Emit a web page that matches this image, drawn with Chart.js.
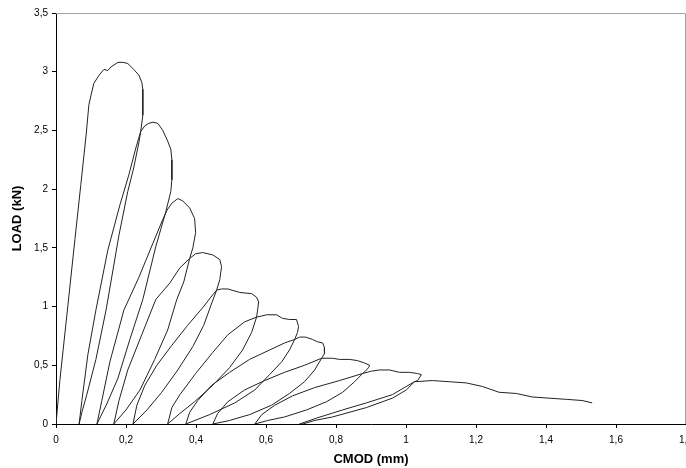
<!DOCTYPE html>
<html>
<head>
<meta charset="utf-8">
<script src="https://cdn.jsdelivr.net/npm/chart.js@4/dist/chart.umd.min.js"></script>
<style>
  html, body { margin: 0; padding: 0; background: #fff; overflow: hidden; }
</style>
</head>
<body>
<canvas id="cmod-chart" width="686" height="468"></canvas>
<script>
// CMOD (mm), one row per loading / unloading branch
const cmod = [
    0, 0.011, 0.034, 0.054, 0.071, 0.086, 0.094, 0.100, 0.108, 0.123, 0.137, 0.148, 0.157, 0.177, 0.191, 0.205, 0.222, 0.237, 0.245, 0.248,
    0.248, 0.242, 0.237, 0.222, 0.205, 0.180, 0.143, 0.114, 0.088, 0.074, 0.066,
    0.074, 0.091, 0.114, 0.148, 0.183, 0.208, 0.228, 0.242, 0.254, 0.265, 0.277, 0.291, 0.305, 0.319, 0.328, 0.331, 0.331, 0.328,
    0.314, 0.285, 0.248, 0.211, 0.177, 0.145, 0.117,
    0.131, 0.154, 0.194, 0.237, 0.277, 0.302, 0.317, 0.331, 0.348, 0.362, 0.382, 0.396, 0.399,
    0.391, 0.382, 0.365, 0.345, 0.319, 0.282, 0.240, 0.200, 0.165,
    0.180, 0.205, 0.245, 0.285, 0.325, 0.354, 0.382, 0.399, 0.419, 0.448, 0.468, 0.473, 0.468,
    0.459, 0.445, 0.422, 0.391, 0.348, 0.302, 0.260, 0.220,
    0.231, 0.254, 0.288, 0.331, 0.376, 0.419, 0.445, 0.459, 0.473, 0.491, 0.525, 0.559, 0.573, 0.579, 0.576, 0.573,
    0.559, 0.533, 0.496, 0.448, 0.396, 0.354, 0.319,
    0.331, 0.354, 0.399, 0.448, 0.491, 0.539, 0.573, 0.588, 0.602, 0.630, 0.647, 0.667, 0.687, 0.693, 0.690, 0.682,
    0.667, 0.645, 0.610, 0.568, 0.511, 0.439, 0.371,
    0.382, 0.405, 0.445, 0.496, 0.553, 0.610, 0.653, 0.682, 0.696, 0.713, 0.733, 0.747, 0.762, 0.767, 0.767, 0.759,
    0.739, 0.710, 0.667, 0.616, 0.553, 0.496, 0.448,
    0.462, 0.491, 0.539, 0.596, 0.653, 0.710, 0.759, 0.790, 0.810, 0.839, 0.861, 0.881, 0.896, 0.893, 0.884, 0.876,
    0.853, 0.819, 0.773, 0.716, 0.653, 0.605, 0.568,
    0.588, 0.625, 0.676, 0.739, 0.810, 0.876, 0.901, 0.924, 0.953, 0.981, 1.010, 1.033, 1.044, 1.033, 1.024,
    1.001, 0.961, 0.887, 0.790, 0.739, 0.705, 0.696,
    0.744, 0.819, 0.887, 0.961, 1.024, 1.075, 1.124, 1.172, 1.218, 1.266, 1.315, 1.361, 1.409, 1.458, 1.503, 1.532
];

// LOAD (kN), same rows as cmod
const load = [
    0, 0.37, 1.01, 1.57, 2.04, 2.46, 2.72, 2.80, 2.90, 2.97, 3.02, 3.01, 3.04, 3.08, 3.08, 3.07, 3.02, 2.97, 2.91, 2.85,
    2.63, 2.49, 2.40, 2.18, 1.98, 1.61, 0.97, 0.55, 0.25, 0.10, 0,
    0.20, 0.59, 0.97, 1.48, 1.87, 2.12, 2.35, 2.49, 2.54, 2.56, 2.57, 2.56, 2.50, 2.41, 2.34, 2.25, 2.08, 1.98,
    1.81, 1.51, 1.06, 0.72, 0.39, 0.17, 0,
    0.20, 0.53, 0.97, 1.25, 1.54, 1.72, 1.82, 1.88, 1.92, 1.90, 1.84, 1.75, 1.63,
    1.50, 1.41, 1.21, 1.06, 0.80, 0.55, 0.29, 0.12, 0,
    0.20, 0.46, 0.76, 1.06, 1.20, 1.33, 1.41, 1.45, 1.46, 1.44, 1.40, 1.34, 1.23,
    1.14, 1.03, 0.84, 0.66, 0.46, 0.27, 0.12, 0,
    0.16, 0.33, 0.50, 0.67, 0.84, 0.99, 1.09, 1.14, 1.15, 1.15, 1.12, 1.11, 1.08, 1.04, 0.97, 0.91,
    0.78, 0.63, 0.48, 0.33, 0.19, 0.09, 0,
    0.14, 0.25, 0.43, 0.61, 0.76, 0.87, 0.91, 0.92, 0.93, 0.93, 0.90, 0.89, 0.89, 0.83, 0.78, 0.72,
    0.63, 0.53, 0.42, 0.29, 0.18, 0.08, 0,
    0.10, 0.20, 0.33, 0.44, 0.55, 0.63, 0.69, 0.72, 0.74, 0.74, 0.72, 0.70, 0.69, 0.65, 0.60, 0.56,
    0.46, 0.36, 0.26, 0.16, 0.08, 0.03, 0,
    0.09, 0.19, 0.29, 0.37, 0.44, 0.50, 0.56, 0.56, 0.55, 0.55, 0.54, 0.52, 0.50, 0.48, 0.45, 0.43,
    0.36, 0.27, 0.19, 0.12, 0.06, 0.03, 0,
    0.08, 0.16, 0.24, 0.31, 0.37, 0.43, 0.45, 0.46, 0.46, 0.44, 0.44, 0.43, 0.42, 0.37, 0.36,
    0.29, 0.22, 0.14, 0.06, 0.03, 0, 0,
    0.05, 0.12, 0.18, 0.25, 0.36, 0.37, 0.36, 0.35, 0.32, 0.27, 0.26, 0.23, 0.22, 0.21, 0.20, 0.18
];

const xTickLabels = ['0', '0,2', '0,4', '0,6', '0,8', '1', '1,2', '1,4', '1,6', '1,8'];
const yTickLabels = ['0', '0,5', '1', '1,5', '2', '2,5', '3', '3,5'];

const points = cmod.map((x, i) => ({ x: x, y: load[i] }));

// grey frame on the top and right of the plot area
const plotFrame = {
    id: 'plotFrame',
    afterDraw(chart) {
        const { ctx, chartArea: a } = chart;
        ctx.save();
        ctx.strokeStyle = '#a0a0a0';
        ctx.lineWidth = 1;
        ctx.beginPath();
        ctx.moveTo(a.left, a.top + 0.5);
        ctx.lineTo(a.right - 0.5, a.top + 0.5);
        ctx.lineTo(a.right - 0.5, a.bottom);
        ctx.stroke();
        ctx.restore();
    }
};

const tickFont = { family: "'Liberation Sans', Arial, sans-serif", size: 10 };
const titleFont = { family: "'Liberation Sans', Arial, sans-serif", size: 13, weight: 'bold' };

var ctx = document.getElementById('cmod-chart').getContext('2d');

new Chart(ctx, {
    type: 'scatter',
    data: {
        datasets: [{
            data: points,
            showLine: true,
            borderColor: '#222',
            borderWidth: 1,
            pointRadius: 0,
            tension: 0
        }]
    },
    options: {
        responsive: false,
        animation: false,
        devicePixelRatio: 1,
        layout: { padding: { left: 6, top: 13, right: 0, bottom: 0 } },
        plugins: { legend: { display: false }, tooltip: { enabled: false } },
        scales: {
            x: {
                type: 'linear',
                min: 0,
                max: 1.8,
                ticks: {
                    stepSize: 0.2,
                    color: '#000',
                    font: tickFont,
                    padding: 6,
                    maxRotation: 0,
                    callback: (v, i) => xTickLabels[i]
                },
                grid: { drawOnChartArea: false, drawTicks: true, tickLength: 4, color: '#000' },
                border: { color: '#000', width: 1 },
                title: { display: true, text: 'CMOD (mm)', color: '#000', font: titleFont, padding: { top: 4, bottom: 1 } },
                afterFit: s => { s.height = 44; s.paddingRight = 0; }
            },
            y: {
                type: 'linear',
                min: 0,
                max: 3.5,
                ticks: {
                    stepSize: 0.5,
                    color: '#000',
                    font: tickFont,
                    padding: 4,
                    callback: (v, i) => yTickLabels[i]
                },
                grid: { drawOnChartArea: false, drawTicks: true, tickLength: 4, color: '#000' },
                border: { color: '#000', width: 1 },
                title: { display: true, text: 'LOAD (kN)', color: '#000', font: titleFont, padding: { top: 4, bottom: 4 } },
                afterFit: s => { s.width = 50; s.paddingTop = 0; }
            }
        }
    },
    plugins: [plotFrame]
});
</script>
</body>
</html>
